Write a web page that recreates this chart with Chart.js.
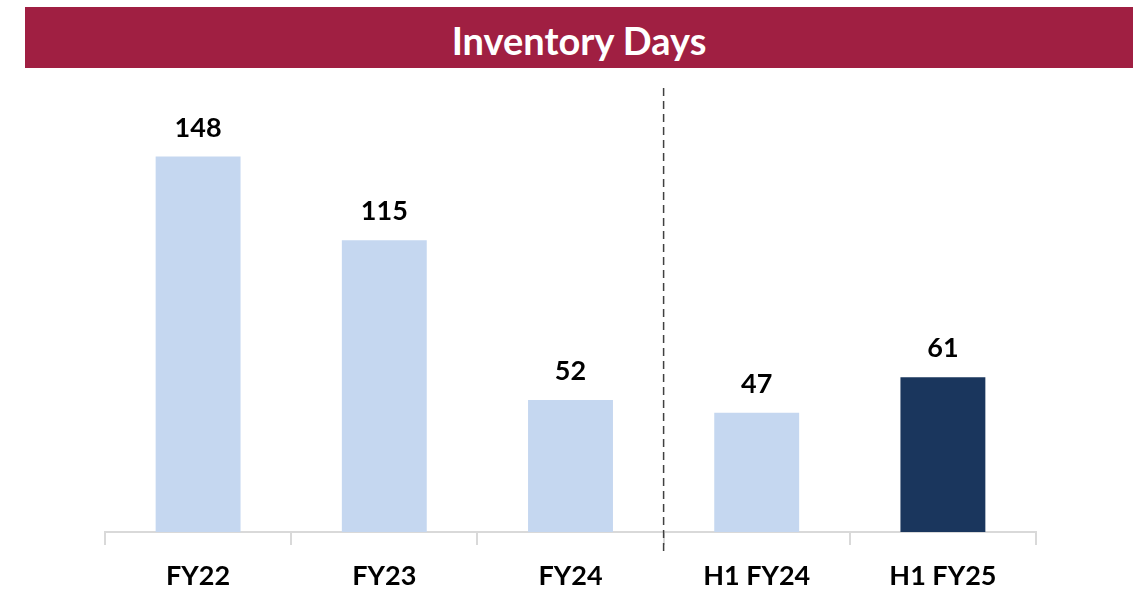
<!DOCTYPE html>
<html>
<head>
<meta charset="utf-8">
<script src="https://cdn.jsdelivr.net/npm/chart.js@4.4.1/dist/chart.umd.min.js"></script>
<style>
  html, body { margin: 0; padding: 0; background: #ffffff; }
  #wrap { position: relative; width: 1134px; height: 591px; }
  #title {
    position: absolute; left: 25px; top: 7px; width: 1108px; height: 61px;
    background: #A01F42; color: #ffffff;
    font-family: Lato, "Open Sans", sans-serif; font-weight: bold; font-size: 38px;
    display: flex; align-items: center; justify-content: center;
    box-sizing: border-box; padding-top: 5px;
  }
  canvas { position: absolute; left: 0; top: 0; }
</style>
</head>
<body>
<div id="wrap">
  <canvas id="c" width="1134" height="591"></canvas>
  <div id="title">Inventory Days</div>
</div>
<script>
const categories = ["FY22", "FY23", "FY24", "H1 FY24", "H1 FY25"];
const inventoryDays = [148, 115, 52, 47, 61];
const barColors = ["#C5D7F0", "#C5D7F0", "#C5D7F0", "#C5D7F0", "#1A365D"];
const dividerAfterIndex = 2;

const labelPlugin = {
  id: 'valueLabels',
  afterDatasetsDraw(chart) {
    const ctx = chart.ctx;
    const meta = chart.getDatasetMeta(0);
    ctx.save();
    ctx.fillStyle = '#000000';
    ctx.font = 'bold 27px Lato, "Open Sans", sans-serif';
    ctx.textAlign = 'center';
    ctx.textBaseline = 'bottom';
    meta.data.forEach((bar, i) => {
      ctx.fillText(String(inventoryDays[i]), bar.x, bar.y - 15);
    });
    ctx.restore();
  }
};

const dividerPlugin = {
  id: 'divider',
  afterDraw(chart) {
    const x = chart.scales.x;
    const px = (x.getPixelForValue(dividerAfterIndex) + x.getPixelForValue(dividerAfterIndex + 1)) / 2;
    const ctx = chart.ctx;
    ctx.save();
    ctx.strokeStyle = '#404040';
    ctx.lineWidth = 1.5;
    ctx.setLineDash([8, 5]);
    ctx.beginPath();
    ctx.moveTo(px, 88);
    ctx.lineTo(px, 551);
    ctx.stroke();
    ctx.restore();
  }
};

new Chart(document.getElementById('c'), {
  type: 'bar',
  data: {
    labels: categories,
    datasets: [{
      data: inventoryDays,
      backgroundColor: barColors,
      borderWidth: 0,
      barPercentage: 0.456,
      categoryPercentage: 1.0
    }]
  },
  options: {
    responsive: false,
    animation: false,
    layout: { padding: { left: 105, right: 98, top: 88, bottom: 0 } },
    plugins: { legend: { display: false }, tooltip: { enabled: false }, title: { display: false } },
    scales: {
      y: { display: false, min: 0, max: 175 },
      x: {
        offset: true,
        afterFit(scale) { scale.height = 59; },
        grid: { offset: true, drawOnChartArea: false, drawTicks: true, tickLength: 13, color: '#D9D9D9', lineWidth: 2 },
        border: { display: true, color: '#D9D9D9', width: 2 },
        ticks: { color: '#000000', font: { family: 'Lato, "Open Sans", sans-serif', weight: 'bold', size: 27 }, padding: 15 }
      }
    }
  },
  plugins: [labelPlugin, dividerPlugin]
});
</script>
</body>
</html>
